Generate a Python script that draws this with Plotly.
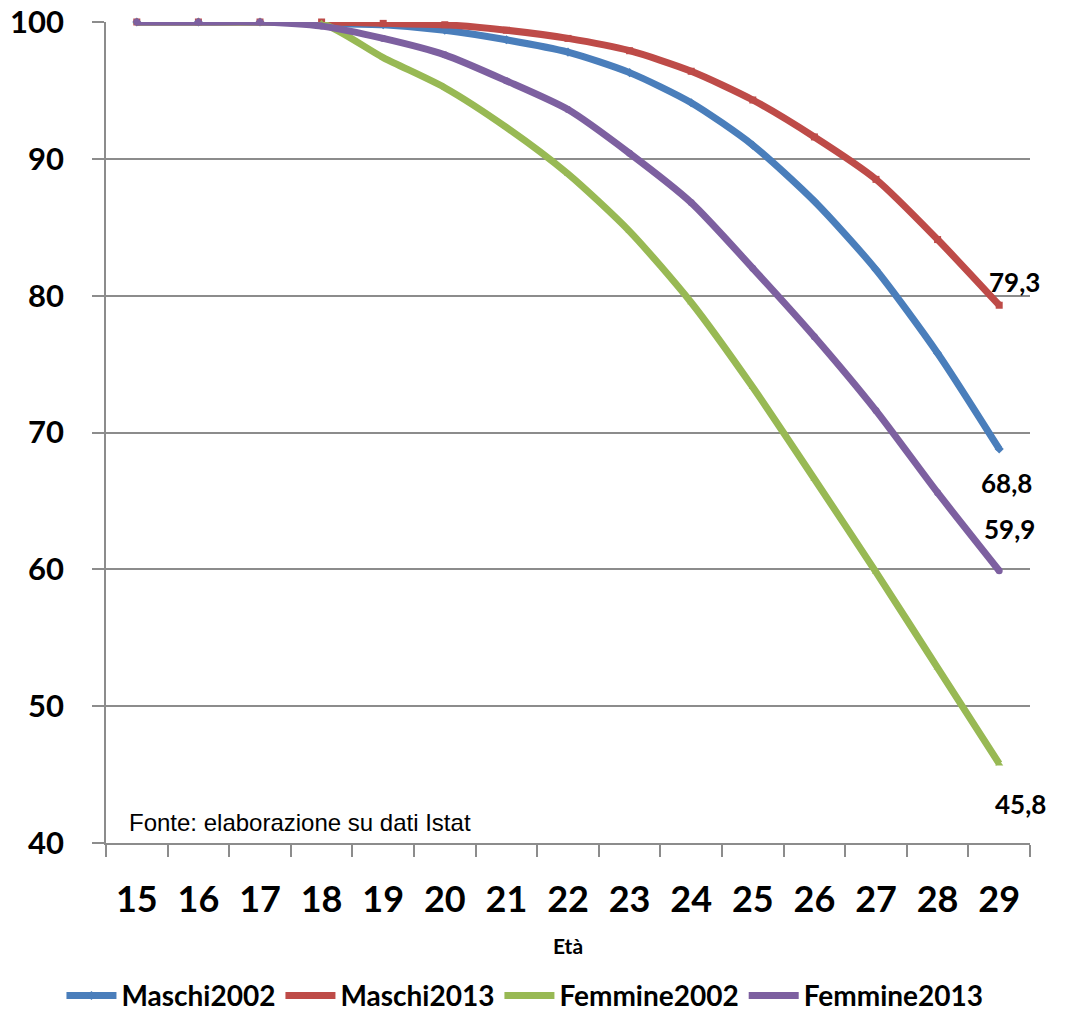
import plotly.graph_objects as go

# Age classes (x axis) and cumulative share per cohort (%)
eta = ["15", "16", "17", "18", "19", "20", "21", "22", "23", "24", "25", "26", "27", "28", "29"]

maschi_2002 = [100, 100, 100, 99.9, 99.8, 99.4, 98.7, 97.8, 96.3, 94.1, 91.0, 86.9, 81.9, 75.8, 68.8]
maschi_2013 = [100, 100, 100, 100, 99.9, 99.8, 99.4, 98.8, 97.9, 96.4, 94.3, 91.6, 88.5, 84.1, 79.3]
femmine_2002 = [100, 100, 100, 99.9, 97.4, 95.2, 92.3, 88.9, 84.7, 79.5, 73.3, 66.6, 59.8, 52.8, 45.8]
femmine_2013 = [100, 100, 100, 99.7, 98.8, 97.6, 95.7, 93.6, 90.4, 86.8, 82.0, 77.0, 71.6, 65.6, 59.9]

y_ticks = [40, 50, 60, 70, 80, 90, 100]

series = [
    ("Maschi2002", maschi_2002, "#4A7EBB", "diamond"),
    ("Maschi2013", maschi_2013, "#BE4B48", "square"),
    ("Femmine2002", femmine_2002, "#98B954", "triangle-up"),
    ("Femmine2013", femmine_2013, "#7D60A0", "circle"),
]

fig = go.Figure()
for name, values, color, symbol in series:
    fig.add_trace(go.Scatter(
        x=eta, y=values, name=name, mode="lines+markers",
        line=dict(color=color, width=7, shape="spline", smoothing=0.7),
        marker=dict(color=color, size=7, symbol=symbol),
        cliponaxis=False,
    ))

# End-of-line value labels: (series values, x shift, y shift)
last = len(eta) - 1
end_labels = [
    (maschi_2013, 15, 23),
    (maschi_2002, 7, -34),
    (femmine_2013, 10, 42),
    (femmine_2002, 21, -40),
]
for values, dx, dy in end_labels:
    v = values[-1]
    fig.add_annotation(
        x=last, y=v, xref="x", yref="y",
        text=f"{v:.1f}".replace(".", ","), showarrow=False,
        xshift=dx, yshift=dy,
        font=dict(family="Lato", size=26, color="#000000", weight="bold"),
    )

# Source note in the lower-left corner of the plot area
fig.add_annotation(
    x=(127 - 106) / (1030 - 106), y=(843 - 822) / (843 - 22),
    xref="paper", yref="paper", text="Fonte: elaborazione su dati Istat",
    showarrow=False, xanchor="left", yanchor="middle",
    font=dict(family="Liberation Sans, Arial", size=24, color="#000000"),
)

fig.update_layout(
    width=1067, height=1014,
    margin=dict(l=106, r=37, t=22, b=171, autoexpand=False),
    paper_bgcolor="white", plot_bgcolor="white",
    showlegend=True,
    legend=dict(
        orientation="h", xref="container", yref="container",
        x=0.492, xanchor="center", y=0.018, yanchor="middle",
        font=dict(family="Lato", size=28, color="#000000", weight="bold"),
        itemwidth=50, tracegroupgap=0,
    ),
    xaxis=dict(
        type="category", tickson="boundaries", automargin=False,
        range=[-0.5, len(eta) - 0.5], autorange=False,
        showline=True, linecolor="#8c8c8c", linewidth=1.5,
        ticks="outside", ticklen=12, tickcolor="#8c8c8c", tickwidth=1.5,
        showgrid=False, ticklabelstandoff=24, tickangle=0,
        tickfont=dict(family="Lato", size=36, color="#000000", weight="bold"),
        title=dict(text="Età", standoff=20,
                   font=dict(family="Lato", size=21, color="#000000", weight="bold")),
    ),
    yaxis=dict(
        range=[40, 100], tickvals=y_ticks, autorange=False, automargin=False,
        showline=True, linecolor="#8c8c8c", linewidth=1.5,
        ticks="outside", ticklen=12, tickcolor="#8c8c8c", tickwidth=1.5,
        showgrid=True, gridcolor="#8c8c8c", gridwidth=1.5,
        zeroline=False, ticklabelstandoff=22,
        tickfont=dict(family="Lato", size=31, color="#000000", weight="bold"),
    ),
)

fig.write_html("out.html")
